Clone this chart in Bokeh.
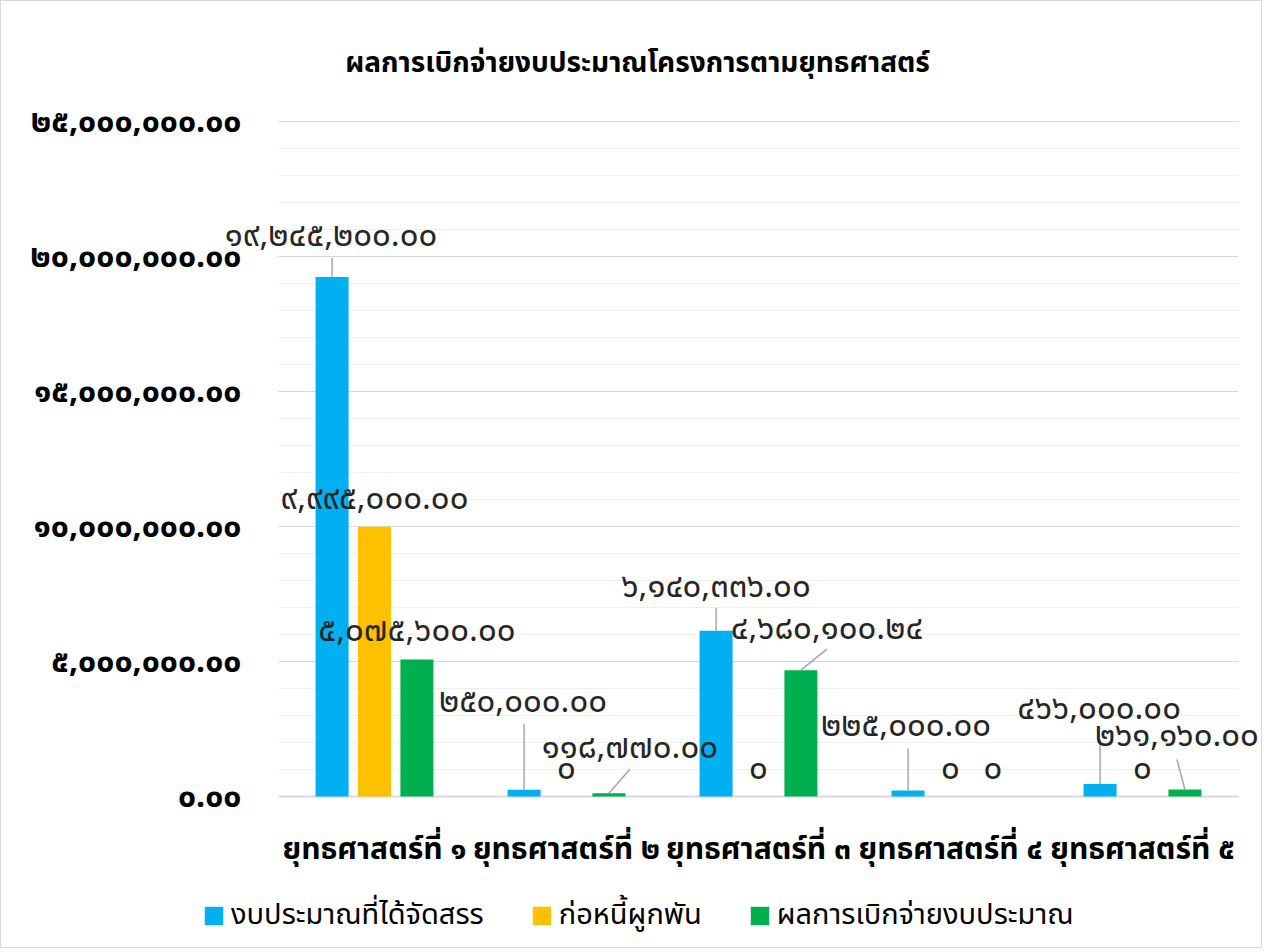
from bokeh.plotting import figure
from bokeh.models import ColumnDataSource, Range1d, Legend, LegendItem
from bokeh.core.properties import value
from bokeh.embed import file_html
from bokeh.resources import INLINE

# ---------------- data ----------------
title_text = "ผลการเบิกจ่ายงบประมาณโครงการตามยุทธศาสตร์"
categories = ["ยุทธศาสตร์ที่ ๑", "ยุทธศาสตร์ที่ ๒", "ยุทธศาสตร์ที่ ๓",
              "ยุทธศาสตร์ที่ ๔", "ยุทธศาสตร์ที่ ๕"]
series_names = ["งบประมาณที่ได้จัดสรร", "ก่อหนี้ผูกพัน", "ผลการเบิกจ่ายงบประมาณ"]
allocated = [19245200.00, 250000.00, 6140336.00, 225000.00, 466000.00]
encumbered = [9995000.00, 0.00, 0.00, 0.00, 0.00]
disbursed = [5075600.00, 118770.00, 4680100.24, 0.00, 261160.00]
y_ticks = [0, 5000000, 10000000, 15000000, 20000000, 25000000]
y_minor_step = 1000000
y_max = 25000000

# ---------------- style / layout (pixels) ----------------
colors = ["#00B0F0", "#FFC000", "#00B050"]
FONT = "Noto Sans Thai, Tahoma, Noto Sans, sans-serif"
W, H = 1262, 948
PLOT_L, PLOT_R, PLOT_T, PLOT_B = 277, 1237, 120, 795   # plot area in canvas px
px_x = (PLOT_R - PLOT_L) / len(categories)
px_y = (PLOT_B - PLOT_T) / y_max
dodge = [-0.221, 0.0, 0.221]
bar_w = 0.172

# label centre offsets (px, screen-down positive) from the top-centre of each bar
label_dx = [[-1, -1, 0, -2, -1], [0, 0, 0, 0, 0], [0, 21, 26, 0, -8]]
label_dy = [[-41, -88, -44, -64, -75], [-28, -28, -28, -28, -28], [-28, -45, -41, -28, -53]]
# leader line start offsets (px) from the top-centre of each bar
leaders = [[(0, -19), (0, -66), (0, -23), (0, -42), (0, -45)],
           [None] * 5,
           [None, (21, -24), (26, -21), None, (-8, -30)]]

THAI = str.maketrans("0123456789", "๐๑๒๓๔๕๖๗๘๙")


def thai_num(v, zero_plain=True):
    if v == 0 and zero_plain:
        return "๐"
    return f"{v:,.2f}".translate(THAI)


def dx_(px):
    return px / px_x


def dy_(px):
    return px / px_y


x_range = Range1d(-dx_(PLOT_L), len(categories) + dx_(W - PLOT_R))
y_range = Range1d(-dy_(H - PLOT_B), y_max + dy_(PLOT_T))

p = figure(width=W, height=H, output_backend="svg", toolbar_location=None,
           x_range=x_range, y_range=y_range,
           min_border=0)
p.axis.visible = False
p.grid.visible = False
p.outline_line_color = None
p.background_fill_color = "white"
p.border_fill_color = "white"
p.styles = {"border": "1px solid #D9D9D9"}

# gridlines
minor = [v for v in range(0, y_max + 1, y_minor_step) if v not in y_ticks]
p.segment(x0=[0] * len(minor), x1=[len(categories)] * len(minor), y0=minor, y1=minor,
          line_color="#EFEFEF", line_width=1)
p.segment(x0=[0] * len(y_ticks), x1=[len(categories)] * len(y_ticks), y0=y_ticks, y1=y_ticks,
          line_color="#D9D9D9", line_width=1)
p.segment(x0=[0], x1=[len(categories)], y0=[0], y1=[0], line_color="#D9D9D9", line_width=2)

# y tick labels
p.text(x=[-dx_(37)] * len(y_ticks), y=y_ticks,
       text=[thai_num(t, zero_plain=False) for t in y_ticks],
       text_align="right", text_baseline="middle", text_font=value(FONT),
       text_font_size="32px", text_font_style="bold", text_color="#000000")

# category labels
p.text(x=[i + 0.5 for i in range(len(categories))], y=[-dy_(53)] * len(categories),
       text=categories, text_align="center", text_baseline="middle",
       text_font=value(FONT), text_font_size="30px", text_font_style="bold",
       text_color="#000000")

# title
p.text(x=[dx_(636 - PLOT_L)], y=[y_max + dy_(PLOT_T - 62)], text=[title_text],
       text_align="center", text_baseline="middle", text_font=value(FONT),
       text_font_size="28px", text_font_style="bold", text_color="#000000")

series_values = [allocated, encumbered, disbursed]
items = []
seg = dict(x0=[], y0=[], x1=[], y1=[])
lab = dict(x=[], y=[], text=[])
for s, (name, vals, col) in enumerate(zip(series_names, series_values, colors)):
    xs = [i + 0.5 + dodge[s] for i in range(len(vals))]
    src = ColumnDataSource(dict(x=xs, top=vals))
    r = p.vbar(x="x", top="top", width=bar_w, bottom=0, source=src,
               fill_color=col, line_color=None)
    items.append(LegendItem(label=name, renderers=[r]))
    for i, v in enumerate(vals):
        lab["x"].append(xs[i] + dx_(label_dx[s][i]))
        lab["y"].append(v - dy_(label_dy[s][i]))
        lab["text"].append(thai_num(v))
        ld = leaders[s][i]
        if ld is None:
            continue
        seg["x0"].append(xs[i] + dx_(ld[0]))
        seg["y0"].append(v - dy_(ld[1]))
        seg["x1"].append(xs[i])
        seg["y1"].append(v)

p.segment(x0="x0", y0="y0", x1="x1", y1="y1", source=ColumnDataSource(seg),
          line_color="#A6A6A6", line_width=1.5)
p.text(x="x", y="y", text="text", source=ColumnDataSource(lab),
       text_align="center", text_baseline="middle", text_font=value(FONT),
       text_font_size="33px", text_color="#262626")

legend = Legend(items=items, orientation="horizontal", location=(201, H - 916 - 20),
                glyph_width=23, glyph_height=23, label_standoff=6, spacing=46,
                label_text_font=FONT, label_text_font_size="29px",
                label_text_color="#000000", border_line_color=None,
                background_fill_alpha=0, padding=0, margin=0)
p.add_layout(legend, "center")

open("out.html", "w").write(file_html(p, INLINE))
